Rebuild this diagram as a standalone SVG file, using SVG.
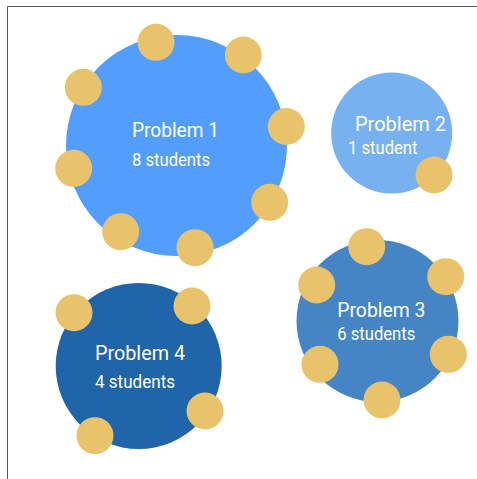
<svg xmlns="http://www.w3.org/2000/svg" width="477" height="479" viewBox="0 0 477 479">
<style>
.t{font-family:Roboto,"Liberation Sans",sans-serif;fill:#fff}
.h{font-size:21px}
.s{font-size:17.5px}
.p{fill:#E9C36C}
</style>
<rect x="0" y="0" width="477" height="479" fill="#fff"/>
<path d="M7.5 479V6.5H477" fill="none" stroke="#555" stroke-width="1"/>
<g id="connectors"/>
<g id="problem1">
<circle cx="176.5" cy="145.5" r="110.5" fill="#539DFC"/>
<text class="t h" x="132" y="137.3" textLength="87" lengthAdjust="spacingAndGlyphs">Problem 1</text>
<text class="t s" x="132" y="165.7" textLength="78" lengthAdjust="spacingAndGlyphs">8 students</text>
<circle class="p" cx="156" cy="42.3" r="18.5"/>
<circle class="p" cx="243.3" cy="55" r="18.5"/>
<circle class="p" cx="83.3" cy="87.3" r="18.5"/>
<circle class="p" cx="286.3" cy="126.5" r="18.5"/>
<circle class="p" cx="73.7" cy="168.3" r="18.5"/>
<circle class="p" cx="120.7" cy="231.7" r="18.5"/>
<circle class="p" cx="195" cy="247.7" r="18.5"/>
<circle class="p" cx="269.7" cy="202.3" r="18.5"/>
</g>
<g id="problem2">
<circle cx="391.7" cy="133" r="60.5" fill="#77B1F0"/>
<text class="t h" x="355" y="131" textLength="91" lengthAdjust="spacingAndGlyphs">Problem 2</text>
<text class="t s" x="348" y="154.3" textLength="69.5" lengthAdjust="spacingAndGlyphs">1 student</text>
<circle class="p" cx="434" cy="175" r="18.5"/>
</g>
<g id="problem3">
<circle cx="377.5" cy="321" r="81" fill="#4585C5"/>
<text class="t h" x="337.3" y="316.7" textLength="88" lengthAdjust="spacingAndGlyphs">Problem 3</text>
<text class="t s" x="337.3" y="340" textLength="78" lengthAdjust="spacingAndGlyphs">6 students</text>
<circle class="p" cx="366.7" cy="246.7" r="18.5"/>
<circle class="p" cx="445.7" cy="276.7" r="18.5"/>
<circle class="p" cx="316.7" cy="285" r="18.5"/>
<circle class="p" cx="320" cy="364.3" r="18.5"/>
<circle class="p" cx="448.3" cy="354.3" r="18.5"/>
<circle class="p" cx="382" cy="400" r="18.5"/>
</g>
<g id="problem4">
<circle cx="138.7" cy="366" r="83" fill="#2065AA"/>
<text class="t h" x="95" y="360" textLength="90" lengthAdjust="spacingAndGlyphs">Problem 4</text>
<text class="t s" x="95" y="388.3" textLength="80" lengthAdjust="spacingAndGlyphs">4 students</text>
<circle class="p" cx="74" cy="312.7" r="18.5"/>
<circle class="p" cx="192" cy="306" r="18.5"/>
<circle class="p" cx="205" cy="411" r="18.5"/>
<circle class="p" cx="95" cy="435.7" r="18.5"/>
</g>
</svg>
